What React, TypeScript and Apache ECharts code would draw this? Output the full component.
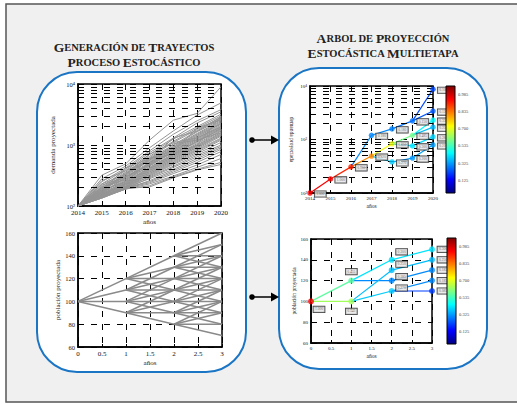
import React, { useEffect, useRef } from "react";
import * as echarts from "echarts";

const SERIF = "'Liberation Serif', 'DejaVu Serif', serif";

// ---------- Data ----------
const years = [2014, 2015, 2016, 2017, 2018, 2019, 2020];

const demandTrajectories = [
  [100, 320, 490, 1200, 2550, 3300, 9000],
  [100, 280, 450, 900, 1700, 3100, 4900],
  [100, 250, 420, 800, 1500, 2500, 3800],
  [100, 230, 400, 750, 1300, 2300, 3500],
  [100, 210, 380, 700, 1250, 2000, 3200],
  [100, 200, 360, 650, 1150, 1900, 3000],
  [100, 190, 340, 620, 1100, 1800, 2800],
  [100, 185, 330, 600, 1000, 1700, 2700],
  [100, 180, 320, 580, 950, 1650, 2600],
  [100, 175, 310, 560, 920, 1550, 2500],
  [100, 220, 300, 520, 900, 1500, 2400],
  [100, 170, 350, 540, 870, 1450, 2300],
  [100, 165, 290, 500, 850, 1400, 2250],
  [100, 195, 280, 480, 820, 1350, 2200],
  [100, 160, 300, 470, 800, 1300, 2100],
  [100, 205, 270, 460, 780, 1250, 2000],
  [100, 155, 260, 450, 760, 1200, 1950],
  [100, 175, 255, 520, 740, 1150, 1900],
  [100, 150, 250, 430, 720, 1100, 1850],
  [100, 185, 245, 420, 700, 1150, 1800],
  [100, 145, 240, 410, 680, 1050, 1750],
  [100, 170, 235, 400, 660, 1000, 1700],
  [100, 160, 230, 390, 640, 980, 1600],
  [100, 150, 225, 380, 620, 950, 1550],
  [100, 140, 220, 370, 600, 920, 1500],
  [100, 165, 215, 360, 580, 900, 1450],
  [100, 155, 210, 350, 560, 860, 1400],
  [100, 145, 205, 340, 540, 830, 1300],
  [100, 140, 200, 330, 520, 800, 1250],
  [100, 150, 230, 320, 500, 760, 1200],
  [100, 135, 195, 310, 480, 720, 1100],
  [100, 160, 210, 300, 450, 680, 1000],
  [100, 140, 190, 290, 430, 640, 950],
  [100, 150, 200, 280, 400, 600, 900],
  [100, 135, 190, 260, 380, 560, 850],
  [100, 145, 200, 250, 360, 520, 780],
  [100, 140, 195, 240, 340, 470, 700],
  [100, 135, 190, 230, 310, 430, 600],
  [100, 140, 190, 215, 300, 400, 520],
  [100, 145, 195, 205, 290, 390, 480],
  [100, 260, 380, 560, 1300, 1700, 2900],
  [100, 230, 330, 700, 1100, 1300, 2000],
  [100, 180, 420, 600, 800, 1900, 2600],
  [100, 200, 300, 480, 1050, 1200, 1600],
  [100, 170, 270, 600, 700, 1000, 3000],
];

const logMinorLines = [200, 300, 400, 500, 600, 700, 800, 900, 2000, 3000, 4000, 5000, 6000, 7000, 8000, 9000];

const popTimes = [0, 1, 2, 3];
const popLevels = [
  [100],
  [90, 100, 110, 120],
  [80, 90, 100, 110, 120, 130, 140],
  [70, 80, 90, 100, 110, 120, 130, 140, 150, 160],
];
const popSteps = [-10, 0, 10, 20];

// [year, demand, probability]
const demandTreeNodes = [
  [2014, 100, 1.0],
  [2015, 183, 1.0],
  [2016, 308, 0.95],
  [2017, 490, 0.82],
  [2017, 1200, 0.18],
  [2018, 830, 0.65],
  [2018, 1580, 0.18],
  [2018, 380, 0.27],
  [2019, 1200, 0.485],
  [2019, 2230, 0.15],
  [2019, 760, 0.3],
  [2019, 450, 0.2],
  [2020, 8700, 0.1],
  [2020, 3400, 0.12],
  [2020, 2300, 0.33],
  [2020, 1700, 0.25],
  [2020, 1120, 0.28],
  [2020, 790, 0.21],
];
const demandTreeEdges = [
  [0, 1], [1, 2], [2, 3], [2, 4], [3, 5], [3, 7], [4, 6], [6, 9],
  [5, 8], [5, 10], [7, 11], [9, 12], [9, 13], [8, 14], [8, 15], [10, 16], [11, 17],
];

// [year, population, probability]
const popTreeNodes = [
  [0, 100, 1.0],
  [1, 120, 0.455],
  [1, 100, 0.545],
  [2, 140, 0.3],
  [2, 130, 0.25],
  [2, 120, 0.185],
  [2, 110, 0.27],
  [3, 150, 0.3],
  [3, 140, 0.25],
  [3, 130, 0.185],
  [3, 120, 0.185],
  [3, 110, 0.085],
];
const popTreeEdges = [
  [0, 1], [0, 2], [1, 3], [1, 5], [2, 4], [2, 6], [3, 7], [4, 8], [5, 9], [6, 10], [6, 11],
];
const popTreeLabelOffsets = [
  [8, 8], [0, -9], [0, 10], [10, -8], [10, -6], [10, -4], [10, -3], [11, 0], [11, 0], [11, 0], [11, 0], [11, 0],
];

const colorbarLabels = ["0.985", "0.835", "0.700", "0.535", "0.325", "0.125"];

// ---------- helpers ----------
function jet(t: number) {
  const c = (x: number) => Math.max(0, Math.min(1, x));
  const r = c(1.5 - Math.abs(4 * t - 3));
  const g = c(1.5 - Math.abs(4 * t - 2));
  const b = c(1.5 - Math.abs(4 * t - 1));
  return `rgb(${Math.round(r * 255)},${Math.round(g * 255)},${Math.round(b * 255)})`;
}
const probColor = (p: number) => jet(0.12 + 0.76 * p);
const SUP: Record<number, string> = { 2: "²", 3: "³", 4: "⁴" };

export default function App() {
  const ref = useRef<HTMLDivElement>(null);
  useEffect(() => {
    document.body.style.margin = "0";
    if (!ref.current) return;
    const chart = echarts.init(ref.current, undefined, { renderer: "svg" });

    const dashStyle = { color: "#000", type: [6, 7] as any, width: 1 };
    const baseAxisLabel = (fs: number) => ({ fontFamily: SERIF, fontSize: fs, color: "#111", margin: 3, hideOverlap: false });
    const plain = (v: number) => String(v);
    const grids = [
      { left: 78, top: 84, width: 143, height: 122 },
      { left: 78, top: 233, width: 144, height: 114 },
      { left: 310, top: 86, width: 123, height: 107 },
      { left: 311, top: 239, width: 121, height: 104 },
    ].map((g) => ({ ...g, show: true, borderColor: "#000", borderWidth: 1.5, backgroundColor: "transparent", containLabel: false }));

    const commonAxis = {
      axisLine: { show: true, lineStyle: { color: "#000", width: 1.5 } },
      axisTick: { show: true, inside: true, length: 3, lineStyle: { color: "#000" } },
      splitLine: { show: true, lineStyle: dashStyle },
    };
    const nameStyle = (fs: number) => ({ fontFamily: SERIF, fontSize: fs, color: "#222" });

    const xAxes: any[] = [
      { gridIndex: 0, type: "value", min: 2014, max: 2020, interval: 1, ...commonAxis,
        axisLabel: { ...baseAxisLabel(7), formatter: plain }, name: "años", nameLocation: "middle", nameGap: 12,
        nameTextStyle: nameStyle(7) },
      { gridIndex: 1, type: "value", min: 0, max: 3, interval: 0.5, ...commonAxis,
        axisLabel: { ...baseAxisLabel(7), formatter: plain }, name: "años", nameLocation: "middle", nameGap: 12,
        nameTextStyle: nameStyle(7) },
      { gridIndex: 2, type: "value", min: 2014, max: 2020, interval: 1, ...commonAxis,
        axisLabel: { ...baseAxisLabel(5), formatter: plain }, name: "años", nameLocation: "middle", nameGap: 10,
        nameTextStyle: nameStyle(5.5) },
      { gridIndex: 3, type: "value", min: 0, max: 3, interval: 0.5, ...commonAxis,
        axisLabel: { ...baseAxisLabel(5), formatter: plain }, name: "años", nameLocation: "middle", nameGap: 10,
        nameTextStyle: nameStyle(5.5) },
    ];
    const logLabel = (v: number) => "10" + (SUP[Math.round(Math.log10(v))] || "");
    const yAxes: any[] = [
      { gridIndex: 0, type: "log", logBase: 10, min: 100, max: 10000, ...commonAxis,
        axisLabel: { ...baseAxisLabel(6.5), formatter: logLabel }, name: "demanda proyectada",
        nameLocation: "middle", nameGap: 22, nameRotate: 90, nameTextStyle: nameStyle(7) },
      { gridIndex: 1, type: "value", min: 60, max: 160, interval: 20, ...commonAxis,
        axisLabel: { ...baseAxisLabel(6.5), formatter: plain }, name: "población proyectada",
        nameLocation: "middle", nameGap: 15, nameRotate: 90, nameTextStyle: nameStyle(7) },
      { gridIndex: 2, type: "log", logBase: 10, min: 100, max: 10000, ...commonAxis,
        axisLabel: { ...baseAxisLabel(5), formatter: logLabel }, name: "demanda proyectada",
        nameLocation: "middle", nameGap: 15, nameRotate: -90, nameTextStyle: nameStyle(5.5) },
      { gridIndex: 3, type: "value", min: 60, max: 160, interval: 20, ...commonAxis,
        axisLabel: { ...baseAxisLabel(5), formatter: plain }, name: "población proyectada",
        nameLocation: "middle", nameGap: 13, nameRotate: 90, nameTextStyle: nameStyle(5.5) },
    ];

    const series: any[] = [];
    [0, 2].forEach((gi) => {
      series.push({
        type: "line", xAxisIndex: gi, yAxisIndex: gi, data: [[2014, 100]], symbol: "none",
        lineStyle: { opacity: 0 }, silent: true, z: 1,
        markLine: {
          silent: true, symbol: ["none", "none"], label: { show: false },
          lineStyle: dashStyle, animation: false,
          data: logMinorLines.map((v) => ({ yAxis: v })),
        },
      });
    });
    demandTrajectories.forEach((tr) => {
      series.push({
        type: "line", xAxisIndex: 0, yAxisIndex: 0, symbol: "none", silent: true, z: 3,
        data: tr.map((v, i) => [years[i], v]), lineStyle: { color: "#959595", width: 1 },
      });
    });
    for (let s = 0; s < popTimes.length - 1; s++) {
      for (const v of popLevels[s]) {
        for (const d of popSteps) {
          if (popLevels[s + 1].includes(v + d)) {
            series.push({
              type: "line", xAxisIndex: 1, yAxisIndex: 1, symbol: "none", silent: true, z: 3,
              data: [[popTimes[s], v], [popTimes[s + 1], v + d]], lineStyle: { color: "#8a8a8a", width: 1.5 },
            });
          }
        }
      }
    }
    demandTreeEdges.forEach(([a, b]) => {
      const na = demandTreeNodes[a], nb = demandTreeNodes[b];
      series.push({
        type: "line", xAxisIndex: 2, yAxisIndex: 2, symbol: "none", silent: true, z: 3,
        data: [[na[0], na[1]], [nb[0], nb[1]]], lineStyle: { color: probColor(nb[2]), width: 1.2 },
      });
    });
    const nodeLabel = {
      show: true, fontFamily: SERIF, fontSize: 3.6, color: "#444", backgroundColor: "#e6e6e6",
      borderColor: "#111", borderWidth: 0.8, padding: [0.8, 1.5],
      formatter: (p: any) => Number(p.value[2]).toFixed(3),
    };
    series.push({
      type: "scatter", xAxisIndex: 2, yAxisIndex: 2, symbolSize: 5.5, z: 5, silent: true,
      data: demandTreeNodes.map((n) => ({ value: n, itemStyle: { color: probColor(n[2]) } })),
      label: { ...nodeLabel, position: "right", distance: 2, offset: [0, 1] },
    });
    popTreeEdges.forEach(([a, b]) => {
      const na = popTreeNodes[a], nb = popTreeNodes[b];
      series.push({
        type: "line", xAxisIndex: 3, yAxisIndex: 3, symbol: "none", silent: true, z: 3,
        data: [[na[0], na[1]], [nb[0], nb[1]]], lineStyle: { color: probColor(nb[2]), width: 1.2 },
      });
    });
    series.push({
      type: "scatter", xAxisIndex: 3, yAxisIndex: 3, symbolSize: 6, z: 5, silent: true,
      data: popTreeNodes.map((n, i) => ({
        value: n, itemStyle: { color: probColor(n[2]) },
        label: { offset: popTreeLabelOffsets[i] },
      })),
      label: { ...nodeLabel, position: "inside" },
    });

    const jetStops = [0, 0.125, 0.375, 0.625, 0.875, 1].map((t) => ({ offset: t, color: jet(t) }));
    const colorbar = (x: number, y: number, w: number, h: number) => {
      const els: any[] = [
        { type: "rect", shape: { x, y, width: w, height: h }, z: 10,
          style: { fill: new echarts.graphic.LinearGradient(0, 1, 0, 0, jetStops), stroke: "#000", lineWidth: 1 } },
      ];
      colorbarLabels.forEach((t, i) => {
        els.push({ type: "text", x: x + w + 3, y: y + h * (0.08 + i * 0.16), z: 10,
          style: { text: t, fontFamily: SERIF, fontSize: 4.5, fill: "#444", verticalAlign: "middle" } });
      });
      return els;
    };

    const titleRich = {
      b: { fontFamily: SERIF, fontSize: 13.5, fontWeight: "bold", fill: "#222" },
      s: { fontFamily: SERIF, fontSize: 10.5, fontWeight: "bold", fill: "#222" },
    };
    const title = (x: number, y: number, text: string) => ({
      type: "text", x, y, z: 10,
      style: { text, rich: titleRich, align: "center", verticalAlign: "middle" },
    });
    const arrow = (y: number) => [
      { type: "circle", shape: { cx: 252, cy: y, r: 2.8 }, z: 10, style: { fill: "#000" } },
      { type: "line", shape: { x1: 252, y1: y, x2: 273, y2: y }, z: 10, style: { stroke: "#000", lineWidth: 1.5 } },
      { type: "polygon", shape: { points: [[271, y - 4.5], [279, y], [271, y + 4.5]] }, z: 10, style: { fill: "#000" } },
    ];

    const graphic: any[] = [
      { type: "rect", shape: { x: 6, y: 4, width: 520, height: 398 }, z: -100,
        style: { fill: "#f0f0f0", stroke: "#555", lineWidth: 1.5 } },
      { type: "rect", shape: { x: 37, y: 72, width: 209, height: 300, r: 40 }, z: -90,
        style: { fill: "#ffffff", stroke: "#1a75c5", lineWidth: 2 } },
      { type: "rect", shape: { x: 279, y: 68, width: 208, height: 301, r: 40 }, z: -90,
        style: { fill: "#ffffff", stroke: "#1a75c5", lineWidth: 2 } },
      title(134, 47, "{b|G}{s|ENERACIÓN DE }{b|T}{s|RAYECTOS}"),
      title(134, 62, "{b|P}{s|ROCESO }{b|E}{s|STOCÁSTICO}"),
      title(383, 38, "{b|A}{s|RBOL DE }{b|P}{s|ROYECCIÓN}"),
      title(383, 53, "{b|E}{s|STOCÁSTICA }{b|M}{s|ULTIETAPA}"),
      ...arrow(140),
      ...arrow(297),
      ...colorbar(446, 86, 9, 107),
      ...colorbar(447, 238, 9, 106),
    ];

    chart.setOption({
      animation: false,
      backgroundColor: "#ffffff",
      grid: grids,
      xAxis: xAxes,
      yAxis: yAxes,
      series,
      graphic,
    });
    return () => chart.dispose();
  }, []);
  return <div ref={ref} style={{ width: 517, height: 404 }} />;
}
